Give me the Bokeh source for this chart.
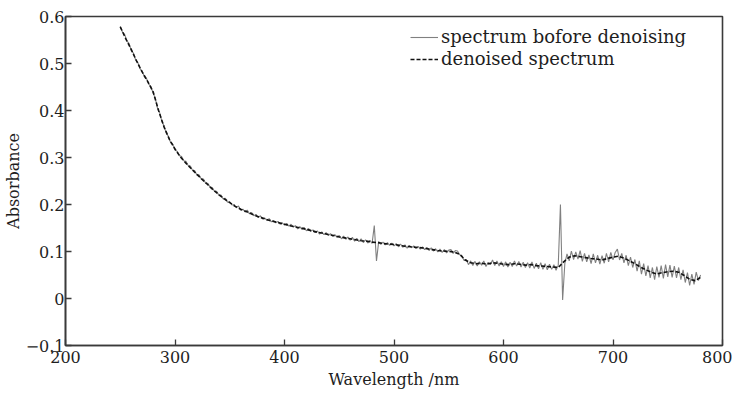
import numpy as np
from bokeh.plotting import figure
from bokeh.models import Range1d, FixedTicker, Legend, LegendItem
from bokeh.embed import file_html
from bokeh.resources import INLINE

# ---------------- data ----------------
wl_raw = list(range(250, 781, 2))
abs_raw = [
    # 250-300
    .579, .567, .562, .548, .543, .528, .522, .508, .502, .489, .484, .472, .468,
    .456, .451, .437, .426, .405, .395, .377, .367, .352, .345, .332, .328, .316,
    # 302-350
    .313, .304, .302, .293, .292, .283, .282, .273, .272, .263, .263, .254, .254,
    .245, .245, .237, .236, .228, .228, .220, .220, .212, .213, .205, .206,
    # 352-400
    .199, .200, .193, .197, .188, .190, .184, .188, .180, .183, .176, .179, .172,
    .176, .169, .171, .166, .170, .163, .166, .161, .164, .158, .161, .156,
    # 402-450
    .160, .154, .158, .152, .155, .148, .153, .147, .151, .144, .149, .143, .146,
    .140, .144, .137, .142, .136, .140, .134, .138, .132, .136, .130, .134,
    # 452-500
    .127, .133, .126, .131, .124, .130, .122, .128, .121, .127, .119, .125, .118,
    .124, .117, .155, .080, .121, .115, .120, .114, .119, .113, .118, .112,
    # 502-550
    .117, .110, .116, .109, .114, .107, .113, .108, .112, .106, .111, .105, .110,
    .104, .109, .102, .108, .101, .106, .099, .105, .098, .104, .097, .103,
    # 552-600
    .104, .096, .102, .101, .093, .091, .081, .083, .072, .080, .070, .079, .069,
    .078, .071, .080, .068, .077, .072, .082, .070, .080, .069, .078, .068,
    # 602-650
    .078, .067, .077, .068, .080, .069, .079, .067, .077, .066, .076, .065, .078,
    .064, .075, .063, .076, .062, .074, .061, .073, .062, .072, .060, .071,
    # 652-700
    .200, -.003, .074, .095, .080, .101, .083, .099, .084, .102, .079, .096, .078,
    .093, .074, .095, .076, .092, .073, .091, .075, .096, .078, .098, .082,
    # 702-750
    .098, .105, .082, .096, .076, .092, .070, .088, .066, .083, .058, .080, .052,
    .074, .048, .070, .044, .066, .040, .068, .045, .070, .043, .072, .046,
    # 752-780
    .071, .045, .069, .044, .066, .040, .061, .034, .055, .028, .052, .030, .056,
    .038, .050,
]

wl_den = list(range(250, 781, 5))
abs_den = [
    .578, .553, .530, .505, .482, .462, .440, .400, .365, .338,   # 250-295
    .318, .301, .288, .276, .264, .253, .242, .231, .221, .212,   # 300-345
    .204, .196, .190, .185, .180, .175, .171, .167, .164, .161,   # 350-395
    .158, .155, .152, .150, .147, .144, .141, .139, .136, .134,   # 400-445
    .131, .129, .127, .125, .123, .122, .120, .119, .117, .116,   # 450-495
    .115, .113, .111, .110, .109, .108, .106, .104, .102, .101,   # 500-545
    .100, .099, .094, .082, .076, .074, .075, .073, .076, .075,   # 550-595
    .073, .072, .074, .073, .071, .072, .070, .069, .068, .067,   # 600-645
    .066, .078, .088, .091, .089, .087, .085, .084, .082, .085,   # 650-695
    .088, .090, .086, .080, .074, .067, .061, .056, .052, .055,   # 700-745
    .057, .058, .056, .049, .041, .038, .045,                     # 750-780
]

x_ticks = [200, 300, 400, 500, 600, 700, 800]
y_ticks = [-0.1, 0.0, 0.1, 0.2, 0.3, 0.4, 0.5, 0.6]
y_tick_labels = ["\u22120.1", "0", "0.1", "0.2", "0.3", "0.4", "0.5", "0.6"]
series_names = ["spectrum bofore denoising", "denoised spectrum"]

FONT = "DejaVu Serif"
TXT = "#1e1e1e"
AX = "#3a3a3a"

p = figure(width=732, height=391, output_backend="svg", toolbar_location=None,
           x_range=Range1d(200, 800), y_range=Range1d(-0.1, 0.6),
           min_border_left=59, min_border_right=10, min_border_top=16,
           min_border_bottom=45)
p.background_fill_color = "white"
p.border_fill_color = "white"
p.grid.visible = False
p.outline_line_color = AX
p.outline_line_width = 1.6

r_raw = p.line(wl_raw, abs_raw, line_color="#808080", line_width=1.1)
r_den = p.line(wl_den, abs_den, line_color="#111111", line_width=1.6,
               line_dash="4 2")

for ax in [p.xaxis[0], p.yaxis[0]]:
    ax.major_tick_in = 6
    ax.major_tick_out = 0
    ax.minor_tick_line_color = None
    ax.axis_line_color = AX
    ax.axis_line_width = 1.6
    ax.major_tick_line_color = AX
    ax.major_tick_line_width = 1.3
    ax.major_label_text_font = FONT
    ax.major_label_text_font_size = "16px"
    ax.major_label_text_color = TXT
    ax.axis_label_text_font = FONT
    ax.axis_label_text_font_size = "16px"
    ax.axis_label_text_font_style = "normal"
    ax.axis_label_text_color = TXT

p.xaxis[0].ticker = FixedTicker(ticks=x_ticks)
p.yaxis[0].ticker = FixedTicker(ticks=y_ticks)
p.yaxis[0].major_label_overrides = dict(zip(y_ticks, y_tick_labels))
p.xaxis[0].axis_label = "Wavelength /nm"
p.yaxis[0].axis_label = "Absorbance"
p.xaxis[0].major_label_standoff = 5
p.yaxis[0].major_label_standoff = 1
p.xaxis[0].axis_label_standoff = 4
p.yaxis[0].axis_label_standoff = 0

legend = Legend(items=[LegendItem(label=series_names[0], renderers=[r_raw]),
                       LegendItem(label=series_names[1], renderers=[r_den])],
                location=(345, 276), border_line_color=None,
                background_fill_alpha=0, padding=2, margin=0, spacing=1,
                glyph_width=28, glyph_height=20, label_height=20,
                label_standoff=3, label_text_font=FONT,
                label_text_font_size="18px", label_text_color=TXT)
p.add_layout(legend)

open("out.html", "w").write(file_html(p, INLINE))
